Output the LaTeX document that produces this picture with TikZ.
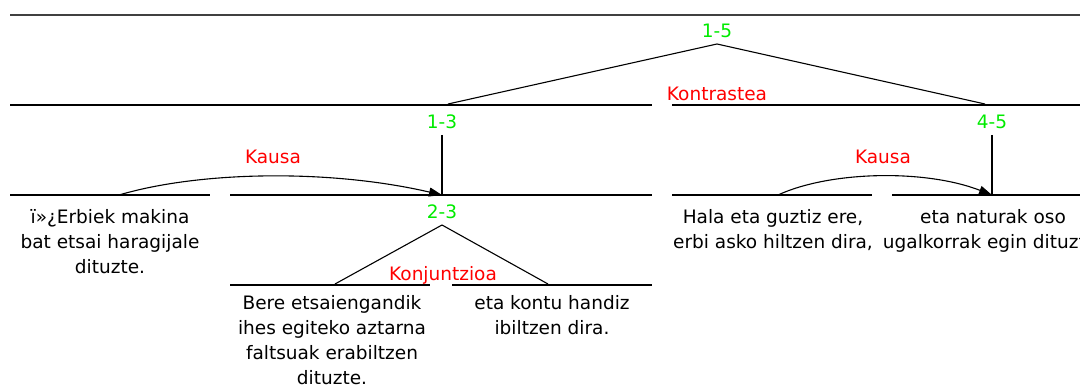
\documentclass[tikz,border=0pt]{standalone}
\usepackage{fontspec}
\setmainfont{DejaVu Sans}
\usetikzlibrary{arrows.meta}
\definecolor{relred}{RGB}{255,0,0}
\definecolor{spangreen}{RGB}{0,235,0}
\begin{document}
\begin{tikzpicture}[x=1pt,y=-1pt,
  txt/.style={font=\fontsize{18.5}{25}\selectfont, inner sep=0pt},
  span/.style={txt, text=spangreen},
  rel/.style={txt, text=relred},
  leaf/.style={txt, align=center, anchor=north},
  seg/.style={line width=1.5pt},
  edgeline/.style={line width=1.1pt},
  arcline/.style={line width=1.1pt, -{Triangle[length=13pt,width=9pt]}}]
\useasboundingbox (0,0) rectangle (1080,387);
\clip (0,0) rectangle (1080,387);

% horizontal span lines
\draw[line width=1.8pt, black!75] (10,15) -- (1080,15);
\draw[seg] (10,105) -- (652,105);
\draw[seg] (672,105) -- (1080,105);
\draw[seg] (10,195) -- (210,195);
\draw[seg] (230,195) -- (652,195);
\draw[seg] (672,195) -- (872,195);
\draw[seg] (892,195) -- (1080,195);
\draw[seg] (230,285) -- (430,285);
\draw[seg] (452,285) -- (652,285);

% span labels
\node[span] (n15) at (717,31) {1-5};
\node[span] (n13) at (442,122) {1-3};
\node[span] (n45) at (992,122) {4-5};
\node[span] (n23) at (442,212) {2-3};

% relation labels
\node[rel] (kontra) at (717,94) {Kontrastea};
\node[rel] (kausa1) at (273,157) {Kausa};
\node[rel] (kausa2) at (883,157) {Kausa};
\node[rel] (konj) at (443,275) {Konjuntzioa};

% leaves
\node[leaf] (l1) at (110,209) {ï»¿Erbiek makina\\bat etsai haragijale\\dituzte.};
\node[leaf] (l2) at (332,295) {Bere etsaiengandik\\ihes egiteko aztarna\\faltsuak erabiltzen\\dituzte.};
\node[leaf] (l3) at (552,295) {eta kontu handiz\\ibiltzen dira.};
\node[leaf] (l4) at (773,209) {Hala eta guztiz ere,\\erbi asko hiltzen dira,};
\node[leaf] (l5) at (993,209) {eta naturak oso\\ugalkorrak egin dituzte.};

% attach points
\coordinate (a15) at (717,44);
\coordinate (c13) at (448,104);
\coordinate (c45) at (985,104);
\coordinate (t13) at (442,135);
\coordinate (b13) at (442,195);
\coordinate (t45) at (992,135);
\coordinate (b45) at (992,195);
\coordinate (a23) at (442,225);
\coordinate (c2) at (335,284);
\coordinate (c3) at (548,284);
\coordinate (s1) at (119,195);
\coordinate (s4) at (778,195);

% tree edges
\draw[edgeline] (c13) -- (a15) -- (c45);
\draw[edgeline] (t13) -- (b13);
\draw[edgeline] (t45) -- (b45);
\draw[edgeline] (c2) -- (a23) -- (c3);

% Kausa arcs
\draw[arcline] (s1) .. controls (200,171) and (330,169) .. (b13);
\draw[arcline] (s4) .. controls (830,171) and (925,169) .. (b45);
\end{tikzpicture}
\end{document}
